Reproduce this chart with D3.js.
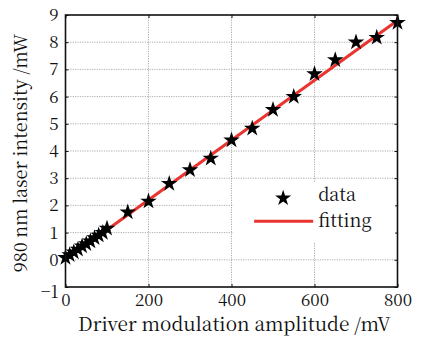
<!DOCTYPE html>
<html>
<head>
<meta charset="utf-8">
<script src="https://cdn.jsdelivr.net/npm/d3@7"></script>
<style>
  body { margin: 0; background: #fff; }
</style>
</head>
<body>
<div id="chart"></div>
<script>
// measured points
const amplitude = [0, 10, 20, 30, 40, 50, 60, 70, 80, 90, 100, 150, 200, 250, 300, 350, 400, 450, 500, 550, 600, 650, 700, 750, 800];
const intensity = [0.08, 0.18, 0.28, 0.38, 0.5, 0.58, 0.68, 0.8, 0.9, 1.0, 1.15, 1.75, 2.15, 2.8, 3.3, 3.73, 4.4, 4.83, 5.52, 6.0, 6.83, 7.35, 8.0, 8.17, 8.72];

// linear fit
const fitSlope = 0.011;
const fitIntercept = 0.0;

const xTicks = [0, 200, 400, 600, 800];
const yTicks = [-1, 0, 1, 2, 3, 4, 5, 6, 7, 8, 9];
const legendLabels = ['data', 'fitting'];

const width = 427, height = 337;
const margin = { top: 15, right: 29.5, bottom: 50, left: 65.5 };
const w = width - margin.left - margin.right;
const h = height - margin.top - margin.bottom;
const font = "'Noto Serif CJK SC', 'Liberation Serif', serif";

const svg = d3.select('#chart').append('svg')
  .attr('width', width)
  .attr('height', height)
  .attr('font-family', font);

const g = svg.append('g')
  .attr('transform', `translate(${margin.left},${margin.top})`);

const x = d3.scaleLinear().domain([0, 800]).range([0, w]);
const y = d3.scaleLinear().domain([-1, 9]).range([h, 0]);

// grid
g.append('g').selectAll('line')
  .data(xTicks.slice(1, -1))
  .enter().append('line')
  .attr('x1', d => x(d)).attr('x2', d => x(d))
  .attr('y1', 0).attr('y2', h)
  .attr('stroke', '#999').attr('stroke-width', 0.8)
  .attr('stroke-dasharray', '1.2,1.2');

g.append('g').selectAll('line')
  .data(yTicks.slice(1, -1))
  .enter().append('line')
  .attr('y1', d => y(d)).attr('y2', d => y(d))
  .attr('x1', 0).attr('x2', w)
  .attr('stroke', '#999').attr('stroke-width', 0.8)
  .attr('stroke-dasharray', '1.2,1.2');

// axes, ticks pointing inward
const xAxis = g.append('g')
  .attr('transform', `translate(0,${h})`)
  .call(d3.axisBottom(x).tickValues(xTicks).tickSizeInner(-3).tickSizeOuter(0).tickPadding(7));
const yAxis = g.append('g')
  .call(d3.axisLeft(y).tickValues(yTicks).tickSizeInner(-3).tickSizeOuter(0).tickPadding(7)
    .tickFormat(d => d < 0 ? '\u2212' + Math.abs(d) : d));
g.append('g')
  .attr('transform', `translate(${w},0)`)
  .call(d3.axisRight(y).tickValues(yTicks).tickSizeInner(-3).tickSizeOuter(0).tickFormat(''));
g.append('g')
  .call(d3.axisTop(x).tickValues(xTicks).tickSizeInner(-3).tickSizeOuter(0).tickFormat(''));

g.selectAll('.domain').remove();
g.selectAll('.tick line').attr('stroke', '#111').attr('stroke-width', 1);
g.selectAll('g').attr('font-family', font);
xAxis.selectAll('text').attr('font-size', 17).attr('fill', '#111');
yAxis.selectAll('text').attr('font-size', 17).attr('fill', '#111');
yAxis.selectAll('.tick').filter(d => d === -1).select('text').attr('dy', '0.6em');

// fit line
const line = d3.line().x(d => x(d)).y(d => y(fitSlope * d + fitIntercept));
g.append('path')
  .datum([0, 800])
  .attr('d', line)
  .attr('fill', 'none')
  .attr('stroke', '#ea3430')
  .attr('stroke-width', 3);

// stars
const star = d3.symbol().type(d3.symbolStar).size(85);
g.append('g').selectAll('path')
  .data(amplitude)
  .enter().append('path')
  .attr('d', star)
  .attr('transform', (d, i) => `translate(${x(d)},${y(intensity[i])})`)
  .attr('fill', '#000');

// legend
const legend = g.append('g').attr('transform', `translate(${x(510)},${y(3)})`);
legend.append('rect')
  .attr('x', -44).attr('y', 4).attr('width', 162).attr('height', 60)
  .attr('fill', '#fff');
legend.append('path')
  .attr('d', d3.symbol().type(d3.symbolStar).size(80))
  .attr('transform', 'translate(6,20)')
  .attr('fill', '#000');
legend.append('line')
  .attr('x1', -23).attr('x2', 36).attr('y1', 43).attr('y2', 43)
  .attr('stroke', '#ea3430').attr('stroke-width', 3);
legend.selectAll('.lbl')
  .data(legendLabels)
  .enter().append('text')
  .attr('class', 'lbl')
  .attr('x', 41)
  .attr('y', (d, i) => 23 + i * 26)
  .attr('font-size', 18)
  .attr('fill', '#111')
  .text(d => d);

// frame
g.append('rect')
  .attr('width', w).attr('height', h)
  .attr('fill', 'none').attr('stroke', '#111').attr('stroke-width', 1.6);

// axis titles
svg.append('text')
  .attr('x', margin.left + w / 2 + 3)
  .attr('y', 331)
  .attr('text-anchor', 'middle')
  .attr('font-size', 19)
  .attr('fill', '#111')
  .text('Driver modulation amplitude /mV');

svg.append('text')
  .attr('transform', `translate(27,153) rotate(-90)`)
  .attr('text-anchor', 'middle')
  .attr('font-size', 18)
  .attr('fill', '#111')
  .text('980 nm laser intensity /mW');
</script>
</body>
</html>
